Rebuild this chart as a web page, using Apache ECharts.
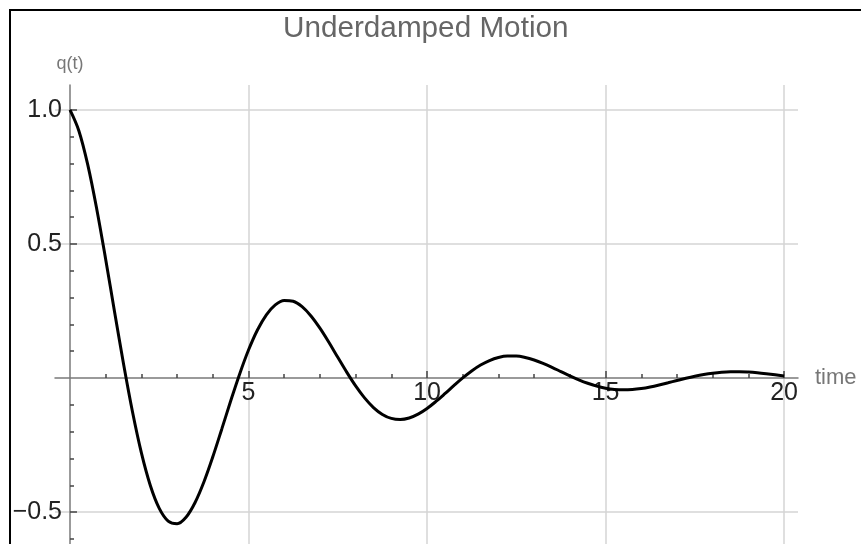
<!DOCTYPE html>
<html>
<head>
<meta charset="utf-8">
<script src="https://cdn.jsdelivr.net/npm/echarts@6/dist/echarts.min.js"></script>
<style>
html,body{margin:0;padding:0;background:#fff;}
#chart{width:861px;height:544px;}
</style>
</head>
<body>
<div id="chart"></div>
<script>
// ---- data ----
var chartTitle = 'Underdamped Motion';
var xName = 'time';
var yName = 'q(t)';
var tValues = [
  0, 0.25, 0.5, 0.75, 1, 1.25, 1.5, 1.75, 2, 2.25, 2.5, 2.75, 3, 3.25, 3.5, 3.75, 4, 4.25, 4.5, 4.75,
  5, 5.25, 5.5, 5.75, 6, 6.25, 6.5, 6.75, 7, 7.25, 7.5, 7.75, 8, 8.25, 8.5, 8.75, 9, 9.25, 9.5, 9.75,
  10, 10.25, 10.5, 10.75, 11, 11.25, 11.5, 11.75, 12, 12.25, 12.5, 12.75, 13, 13.25, 13.5, 13.75, 14, 14.25, 14.5, 14.75,
  15, 15.25, 15.5, 15.75, 16, 16.25, 16.5, 16.75, 17, 17.25, 17.5, 17.75, 18, 18.25, 18.5, 18.75, 19, 19.25, 19.5, 19.75,
  20];
var qValues = [
  1.0000, 0.9217, 0.7941, 0.6298, 0.4424, 0.2456, 0.0524, -0.1256, -0.2790, -0.4005,
  -0.4859, -0.5333, -0.5433, -0.5190, -0.4650, -0.3876, -0.2937, -0.1907, -0.0857, 0.0145,
  0.1044, 0.1792, 0.2359, 0.2727, 0.2892, 0.2863, 0.2662, 0.2315, 0.1859, 0.1332,
  0.0773, 0.0220, -0.0294, -0.0741, -0.1100, -0.1357, -0.1506, -0.1548, -0.1491, -0.1348,
  -0.1136, -0.0873, -0.0583, -0.0283, 0.0005, 0.0265, 0.0485, 0.0653, 0.0766, 0.0820,
  0.0819, 0.0768, 0.0674, 0.0548, 0.0400, 0.0241, 0.0083, -0.0065, -0.0195, -0.0301,
  -0.0378, -0.0425, -0.0441, -0.0428, -0.0390, -0.0332, -0.0259, -0.0177, -0.0092, -0.0009,
  0.0066, 0.0130, 0.0180, 0.0215, 0.0232, 0.0234, 0.0221, 0.0196, 0.0161, 0.0120,
  0.0075];
var xMajorTicks = [5, 10, 15, 20];
var xMinorTicks = [1, 2, 3, 4, 6, 7, 8, 9, 11, 12, 13, 14, 16, 17, 18, 19];
var yMajorTicks = [-0.5, 0.5, 1.0];
var yMinorTicks = [-0.6, -0.4, -0.3, -0.2, -0.1, 0.1, 0.2, 0.3, 0.4, 0.6, 0.7, 0.8, 0.9];
var xRange = [-0.42, 20.39];
var yRange = [-0.619, 1.093];

// ---- layout / style ----
var FONT = 'Liberation Sans, Arial, sans-serif';
var GRID = {left: 55, right: 63, top: 85, bottom: 0};
var W = 861, H = 544;
var plotW = W - GRID.left - GRID.right;
var plotH = H - GRID.top - GRID.bottom;
// put the axes through the origin (offset inwards from the grid edges)
var yAxisOffset = -((0 - xRange[0]) / (xRange[1] - xRange[0]) * plotW);
var xAxisOffset = -((0 - yRange[0]) / (yRange[1] - yRange[0]) * plotH);

var chart = echarts.init(document.getElementById('chart'), null, {renderer: 'canvas'});
var axisLineStyle = {color: '#7a7a7a', width: 1.5};
var tickStyle = {color: '#444', width: 1.5};
var gridStyle = {color: '#d4d4d4', width: 1.5};

var seriesData = tValues.map(function (t, i) { return [t, qValues[i]]; });

function fmtY(v) {
  return Number(v).toFixed(1).replace('-', '\u2212');
}

var option = {
  animation: false,
  backgroundColor: '#ffffff',
  title: {
    text: chartTitle,
    left: 283,
    top: 14,
    padding: 0,
    textStyle: {fontFamily: FONT, fontSize: 29.7, fontWeight: 'normal', color: '#666'}
  },
  grid: {left: GRID.left, right: GRID.right, top: GRID.top, bottom: GRID.bottom, containLabel: false, outerBoundsMode: 'none'},
  graphic: [{
    type: 'rect',
    z: 100,
    shape: {x: 10, y: 10, width: 1000, height: 1000},
    style: {fill: 'none', stroke: '#000', lineWidth: 2}
  }],
  xAxis: [{
    type: 'value',
    min: xRange[0], max: xRange[1],
    position: 'bottom',
    offset: xAxisOffset,
    name: xName,
    nameLocation: 'end',
    nameGap: 17,
    nameMoveOverlap: false,
    nameTextStyle: {fontFamily: FONT, fontSize: 22, color: '#777', verticalAlign: 'middle'},
    axisLine: {show: true, onZero: false, lineStyle: axisLineStyle},
    axisTick: {show: true, inside: true, length: 7, customValues: xMajorTicks, lineStyle: tickStyle},
    axisLabel: {show: true, customValues: xMajorTicks, margin: 3, fontFamily: FONT, fontSize: 25, color: '#222',
                showMinLabel: true, showMaxLabel: true, hideOverlap: false},
    splitLine: {show: true, lineStyle: gridStyle}
  }, {
    type: 'value',
    min: xRange[0], max: xRange[1],
    position: 'bottom',
    offset: xAxisOffset,
    axisLine: {show: false, onZero: false},
    axisTick: {show: true, inside: true, length: 4, customValues: xMinorTicks, lineStyle: tickStyle},
    axisLabel: {show: false},
    splitLine: {show: false}
  }],
  yAxis: [{
    type: 'value',
    min: yRange[0], max: yRange[1],
    position: 'left',
    offset: yAxisOffset,
    name: yName,
    nameLocation: 'end',
    nameGap: 12,
    nameMoveOverlap: false,
    nameTextStyle: {fontFamily: FONT, fontSize: 18, color: '#777', align: 'center'},
    axisLine: {show: true, onZero: false, lineStyle: axisLineStyle},
    axisTick: {show: true, inside: true, length: 7, customValues: yMajorTicks, lineStyle: tickStyle},
    axisLabel: {show: true, customValues: yMajorTicks, margin: 8, fontFamily: FONT, fontSize: 25, color: '#222',
                formatter: fmtY, showMinLabel: true, showMaxLabel: true, hideOverlap: false},
    splitLine: {show: true, lineStyle: gridStyle}
  }, {
    type: 'value',
    min: yRange[0], max: yRange[1],
    position: 'left',
    offset: yAxisOffset,
    axisLine: {show: false, onZero: false},
    axisTick: {show: true, inside: true, length: 4, customValues: yMinorTicks, lineStyle: tickStyle},
    axisLabel: {show: false},
    splitLine: {show: false}
  }],
  series: [{
    type: 'line',
    xAxisIndex: 0,
    yAxisIndex: 0,
    data: seriesData,
    smooth: 0.35,
    showSymbol: false,
    symbol: 'none',
    clip: false,
    lineStyle: {color: '#000', width: 3},
    z: 10
  }]
};
chart.setOption(option);
</script>
</body>
</html>
